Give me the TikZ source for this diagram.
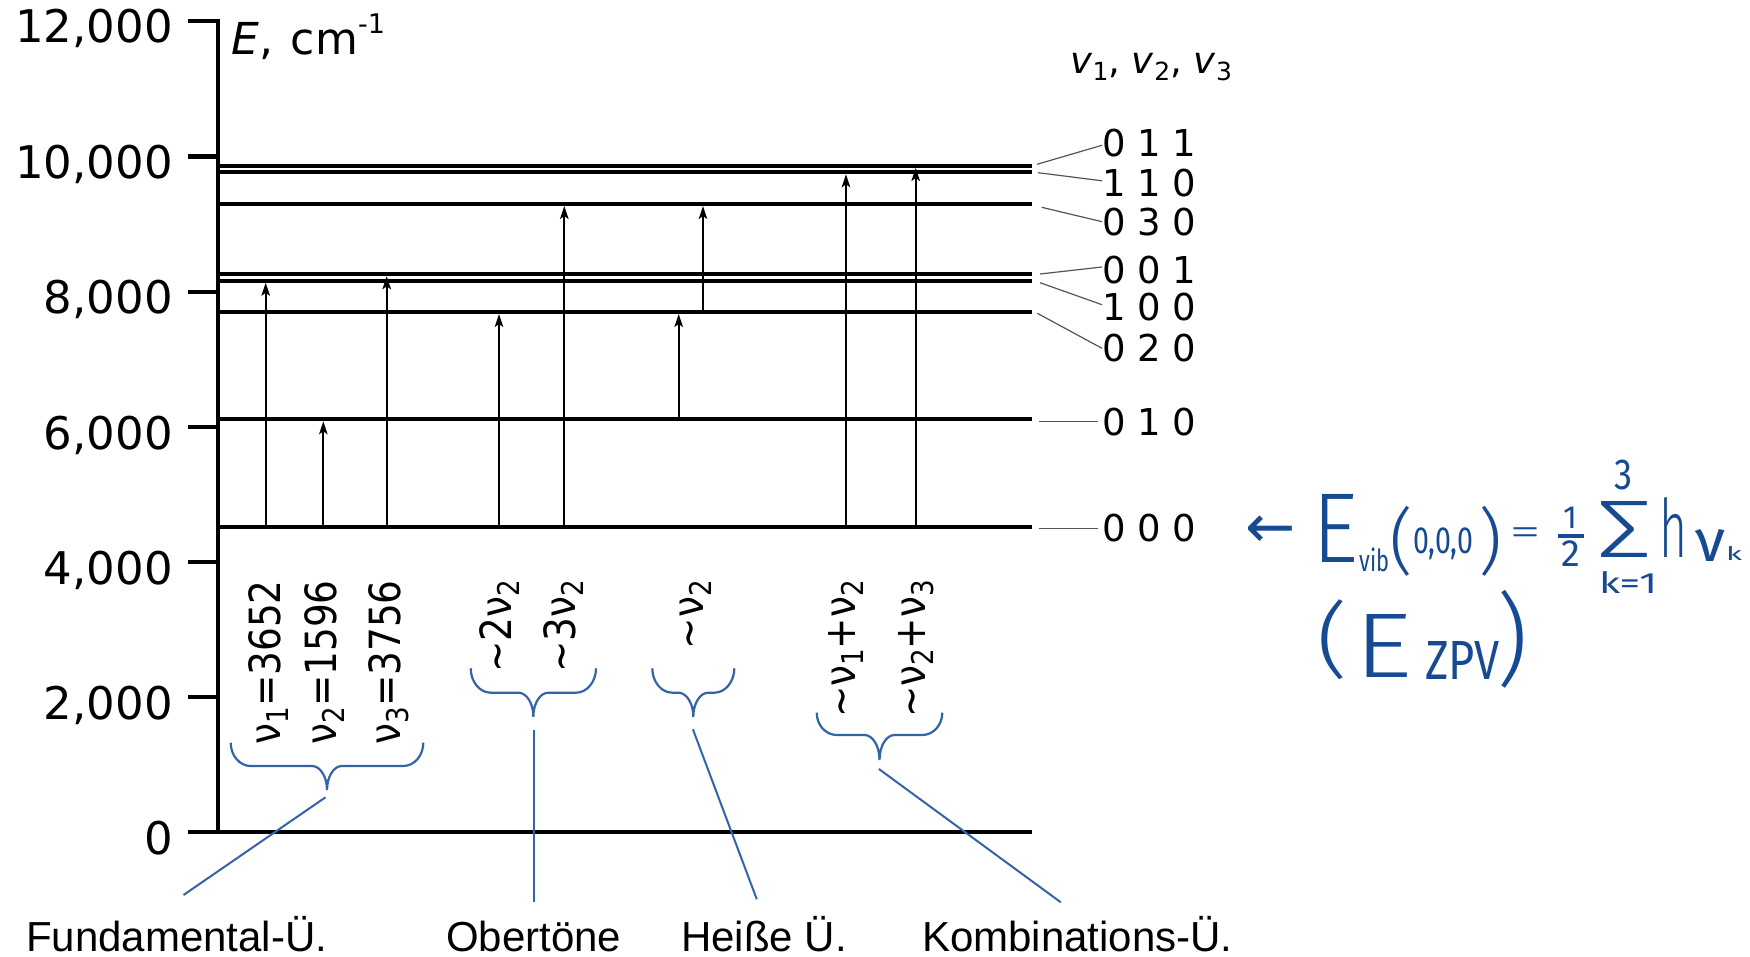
\documentclass[tikz,border=0pt]{standalone}
\usepackage{fontspec}
\setmainfont{DejaVu Sans}
\newfontfamily\libsans{Liberation Sans}
\newfontfamily\dvsans{DejaVu Sans}
\newfontfamily\hwfont{Fira Sans Light}
\newfontfamily\hwfontb{Fira Sans}
\usetikzlibrary{arrows.meta}
\definecolor{brcol}{RGB}{52,100,168}
\definecolor{hwcol}{RGB}{22,74,146}
\definecolor{leadcol}{RGB}{85,85,85}
\newcommand\setfs[1]{\fontsize{#1}{#1}\selectfont}
\newcommand\hsub[1]{\raisebox{-7pt}{\setfs{25}#1}}
\newcommand\nusub[1]{\raisebox{-8pt}{\setfs{30}#1}}
\newcommand\rotl[1]{\scalebox{0.87}[1]{\setfs{43}#1}}
\newcommand\hwbox[3]{\resizebox*{#1pt}{#2pt}{\hwfont #3}}
\newcommand\hwboxb[3]{\resizebox*{#1pt}{#2pt}{\hwfontb #3}}
\newcommand\mybrace[5]{%
  \pgfmathsetmacro\mbxm{(#1+#2)/2}%
  \pgfmathsetmacro\mbd{#4-#3}%
  \pgfmathsetmacro\mbdd{#5-#4}%
  \draw[bracestyle] (#1,#3) .. controls (#1,{#3+0.552*\mbd}) and ({#1+9},#4) .. ({#1+20},#4)
    -- ({\mbxm-15},#4) .. controls ({\mbxm-6.7},#4) and (\mbxm,{#5-0.552*\mbdd}) .. (\mbxm,#5)
    .. controls (\mbxm,{#5-0.552*\mbdd}) and ({\mbxm+6.7},#4) .. ({\mbxm+15},#4)
    -- ({#2-20},#4) .. controls ({#2-9},#4) and (#2,{#3+0.552*\mbd}) .. (#2,#3);}
\begin{document}
\begin{tikzpicture}[x=1pt,y=-1pt,
  lvl/.style={line width=4pt},
  axisline/.style={line width=4.3pt, line join=miter},
  trans/.style={line width=1.9pt,-{Stealth[length=13pt,width=8.5pt,inset=3pt]}, shorten >=2pt},
  lead/.style={line width=1.2pt, draw=leadcol},
  bracestyle/.style={line width=2.2pt, draw=brcol},
  blueline/.style={line width=2pt, draw=brcol},
  ticklab/.style={font=\setfs{45}, anchor=base east, inner sep=0pt},
  statelab/.style={font=\setfs{37}, anchor=west, inner sep=0pt},
  rotlab/.style={rotate=90, anchor=base east, inner sep=0pt},
  botlab/.style={font=\libsans\setfs{42}, anchor=base west, inner sep=0pt},
  hw/.style={text=hwcol, inner sep=0pt, anchor=south west},
  hwt/.style={text=hwcol, inner sep=0pt}
]
\fill[white] (0,0) rectangle (1750,957);
\useasboundingbox (0,0) rectangle (1750,957);

% axis and ticks
\draw[axisline] (188,21) -- (218,21) -- (218,832);
\foreach \ty in {156.5,292,427,562,697}{\draw[axisline] (188,\ty) -- (218,\ty);}
\draw[line width=4.5pt] (188,832) -- (1032,832);
\node[ticklab] (t12) at (173,43) {12,000};
\node[ticklab] (t10) at (173,178.5) {10,000};
\node[ticklab] (t8) at (173,314) {8,000};
\node[ticklab] (t6) at (173,449) {6,000};
\node[ticklab] (t4) at (173,584) {4,000};
\node[ticklab] (t2) at (173,719) {2,000};
\node[ticklab] (t0) at (173,854) {0};
\node[font=\setfs{44}, anchor=base west, inner sep=0pt] (elab) at (231,55) {\textit{E}, \hspace{4pt}cm\raisebox{21.5pt}{\setfs{27}-1}};

% levels
\coordinate (L000) at (218,527.3);
\coordinate (L010) at (218,419.3);
\coordinate (L020) at (218,312);
\coordinate (L100) at (218,280.7);
\coordinate (L001) at (218,274.3);
\coordinate (L030) at (218,204);
\coordinate (L110) at (218,172.3);
\coordinate (L011) at (218,166);
\foreach \lv in {L000,L010,L020,L100,L001,L030,L110,L011}{\draw[lvl] (\lv) -- +(814,0);}

% transitions
\coordinate (A1) at (265.7,0);
\coordinate (A2) at (323.3,0);
\coordinate (A3) at (386.7,0);
\coordinate (A4) at (499,0);
\coordinate (A5) at (564.3,0);
\coordinate (A6) at (678.7,0);
\coordinate (A7) at (703,0);
\coordinate (A8) at (846,0);
\coordinate (A9) at (915.7,0);
\draw[trans] (A1 |- L000) -- (A1 |- L100);
\draw[trans] (A2 |- L000) -- (A2 |- L010);
\draw[trans] (A3 |- L000) -- (A3 |- L001);
\draw[trans] (A4 |- L000) -- (A4 |- L020);
\draw[trans] (A5 |- L000) -- (A5 |- L030);
\draw[trans] (A6 |- L010) -- (A6 |- L020);
\draw[trans] (A7 |- L020) -- (A7 |- L030);
\draw[trans] (A8 |- L000) -- (A8 |- L110);
\draw[trans] (A9 |- L000) -- (A9 |- L011);

% state labels
\node[font=\setfs{37}, anchor=base west, inner sep=0pt] (hdr) at (1070,74) {\textit{v}\hsub{1}, \textit{v}\hsub{2}, \textit{v}\hsub{3}};
\node[statelab] (n011) at (1102,143.3) {0 1 1};
\node[statelab] (n110) at (1102,183.3) {1 1 0};
\node[statelab] (n030) at (1102,221.7) {0 3 0};
\node[statelab] (n001) at (1102,270) {0 0 1};
\node[statelab] (n100) at (1102,306.7) {1 0 0};
\node[statelab] (n020) at (1102,348.3) {0 2 0};
\node[statelab] (n010) at (1102,421.7) {0 1 0};
\node[statelab] (n000) at (1102,528.3) {0 0 0};
\coordinate (s011) at (1037,164.3);
\coordinate (s110) at (1038,172.7);
\coordinate (s030) at (1041.7,207.3);
\coordinate (s001) at (1040,274);
\coordinate (s100) at (1040,282.7);
\coordinate (s020) at (1037.3,313.3);
\coordinate (s010) at (1039.3,421.7);
\coordinate (s000) at (1039.3,528.3);
\draw[lead] (s011) -- ([yshift=-2pt]n011.west);
\draw[lead] (s110) -- ([yshift=2.5pt]n110.west);
\draw[lead] (s030) -- (n030.west);
\draw[lead] (s001) -- ([yshift=3pt]n001.west);
\draw[lead] (s100) -- ([yshift=2pt]n100.west);
\draw[lead] (s020) -- (n020.west);
\draw[lead] (s010) -- ([xshift=-4pt]n010.west);
\draw[lead] (s000) -- ([xshift=-4pt]n000.west);

% rotated labels
\node[rotlab] (r1) at (280,580) {\rotl{ν\nusub{1}=3652}};
\node[rotlab] (r2) at (336.7,580) {\rotl{ν\nusub{2}=1596}};
\node[rotlab] (r3) at (400,580) {\rotl{ν\nusub{3}=3756}};
\node[rotlab] (r4) at (511.7,580) {\rotl{\textasciitilde2ν\nusub{2}}};
\node[rotlab] (r5) at (575,580) {\rotl{\textasciitilde3ν\nusub{2}}};
\node[rotlab] (r6) at (703.3,580) {\rotl{\textasciitilde{}ν\nusub{2}}};
\node[rotlab] (r7) at (855,580) {\rotl{\textasciitilde{}ν\nusub{1}+ν\nusub{2}}};
\node[rotlab] (r8) at (925,580) {\rotl{\textasciitilde{}ν\nusub{2}+ν\nusub{3}}};

% braces
\mybrace{230.7}{423.3}{742.7}{766}{790}
\mybrace{470.7}{596}{668.3}{692.7}{716.7}
\mybrace{652.3}{734.3}{668.3}{692.7}{716.7}
\mybrace{816.7}{942.3}{712.7}{735}{760}

% bottom labels
\node[botlab] (fund) at (26,951) {Fundamental-Ü.};
\node[botlab] (ober) at (446,951) {Obertöne};
\node[botlab] (heiss) at (681,951) {Heiße Ü.};
\node[botlab] (komb) at (922,951) {Kombinations-Ü.};
\coordinate (b1) at (325.5,797.3);
\coordinate (b2) at (533.8,730);
\coordinate (b3) at (692.9,729.3);
\coordinate (b4) at (878.9,769);
\coordinate (f1) at (183.5,895);
\coordinate (f2) at (533.8,901.7);
\coordinate (f3) at (756.8,899.3);
\coordinate (f4) at (1060.8,902.3);
\draw[blueline] (b1) -- (f1);
\draw[blueline] (b2) -- (f2);
\draw[blueline] (b3) -- (f3);
\draw[blueline] (b4) -- (f4);

% handwritten formula
\node[hwt, font=\dvsans\setfs{60}] (harr) at (1271,532) {←};
\node[hw] (hE) at (1312,563) {\hwbox{46}{68}{E}};
\node[hw] (hvib) at (1359,572) {\hwboxb{30}{24}{vib}};
\node[hw] (hpl) at (1389,577) {\hwbox{24}{70}{(}};
\node[hw] (hz) at (1413,560) {\hwboxb{60}{32}{0,0,0}};
\node[hw] (hpr) at (1478,577) {\hwbox{24}{70}{)}};
\node[hwt, font=\hwfont\setfs{50}] (heq) at (1526,537) {\scalebox{1.3}[0.8]{=}};
\node[hwt, font=\hwfontb\setfs{32}] (hone) at (1570,518) {1};
\draw[draw=hwcol, line width=4pt] (1558,536) -- (1584,536);
\node[hwt, font=\hwfontb\setfs{38}] (htwo) at (1571,554) {2};
\node[hw] (hsum) at (1596,558) {\hwbox{56}{56}{Σ}};
\node[hw] (hthree) at (1614,490) {\hwboxb{18}{30}{3}};
\node[hw] (hk1) at (1599,594) {\hwboxb{58}{22}{k=1}};
\node[hw] (hh) at (1659,558) {\hwbox{28}{60}{h}};
\node[hw] (hnu) at (1695,562) {\hwboxb{30}{32}{ν}};
\node[hw] (hk) at (1726,561) {\hwboxb{16}{14}{k}};
\node[hw] (hpl2) at (1316,680) {\hwbox{32}{80}{(}};
\node[hw] (hE2) at (1354,678) {\hwbox{58}{63}{E}};
\node[hw] (hzpv) at (1425,680) {\hwboxb{74}{38}{ZPV}};
\node[hw] (hpr2) at (1496,688) {\hwbox{32}{98}{)}};
\end{tikzpicture}
\end{document}
